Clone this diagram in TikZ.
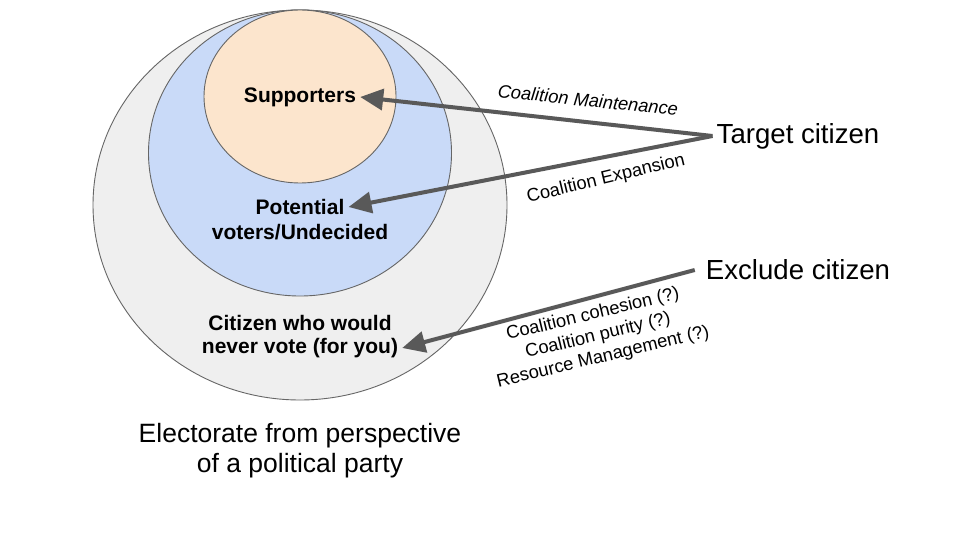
\documentclass[tikz,border=0pt]{standalone}
\usepackage{fontspec}
\setmainfont{Liberation Sans}
\usetikzlibrary{arrows.meta, positioning, shapes.geometric}
\definecolor{elgray}{HTML}{EFEFEF}
\definecolor{elblue}{HTML}{C9DAF8}
\definecolor{elorange}{HTML}{FCE5CD}
\definecolor{eledge}{HTML}{666666}
\definecolor{elarrow}{HTML}{595959}
\tikzset{
  zone/.style={ellipse, draw=eledge, line width=0.9pt, inner sep=0pt},
  grp/.style={font=\fontsize{21}{25}\selectfont\bfseries, align=center, inner sep=4pt},
  act/.style={font=\fontsize{27.6}{32}\selectfont, inner sep=4pt},
  why/.style={font=\fontsize{18.3}{22}\selectfont, align=center, inner sep=0pt},
  arr/.style={-{Triangle[length=23pt, width=21pt]}, line width=4pt, elarrow},
}

\begin{document}
\begin{tikzpicture}[x=1pt, y=-1pt]
    \useasboundingbox[fill=white] (0,0) rectangle (960,540);
    % nested groups of the electorate
    \node[zone, fill=elgray, minimum width=414pt, minimum height=390pt] (all) at (300,205) {};
    \node[zone, fill=elblue, minimum width=303pt, minimum height=286pt] (pot) at (300,153) {};
    \node[zone, fill=elorange, minimum width=192pt, minimum height=173pt] (sup) at (300,96.5) {};
    \node[grp] (suplbl) at (300,97) {Supporters};
    \node[grp] (potlbl) at (300,207) {Potential};
    \node[grp] (undlbl) at (300,232) {voters/Undecided};
    \node[grp] (citlbl) at (300,323) {Citizen who would};
    \node[grp] (neverlbl) at (300,348) {never vote (for you)};
    \node[font=\fontsize{26.5}{30}\selectfont, align=center] (title) at (300,451)
      {Electorate from perspective\\of a political party};

    % actions
    \node[act] (target) at (798,136) {Target citizen};
    \node[act] (excl) at (798,270) {Exclude citizen};
    \draw[arr] (target.west) -- (suplbl.east);
    \draw[arr] (target.west) -- (potlbl.east);
    \draw[arr] ([xshift=-7pt]excl.west) -- (neverlbl.east);
    \node[why, rotate=-6] (maint) at (588,100) {\itshape Coalition Maintenance};
    \node[why, rotate=13.5] (expan) at (606,179) {Coalition Expansion};
    \node[why, rotate=13.5] (reasons) at (598,336)
      {Coalition cohesion (?)\\Coalition purity (?)\\Resource Management (?)};
  \end{tikzpicture}
\end{document}
